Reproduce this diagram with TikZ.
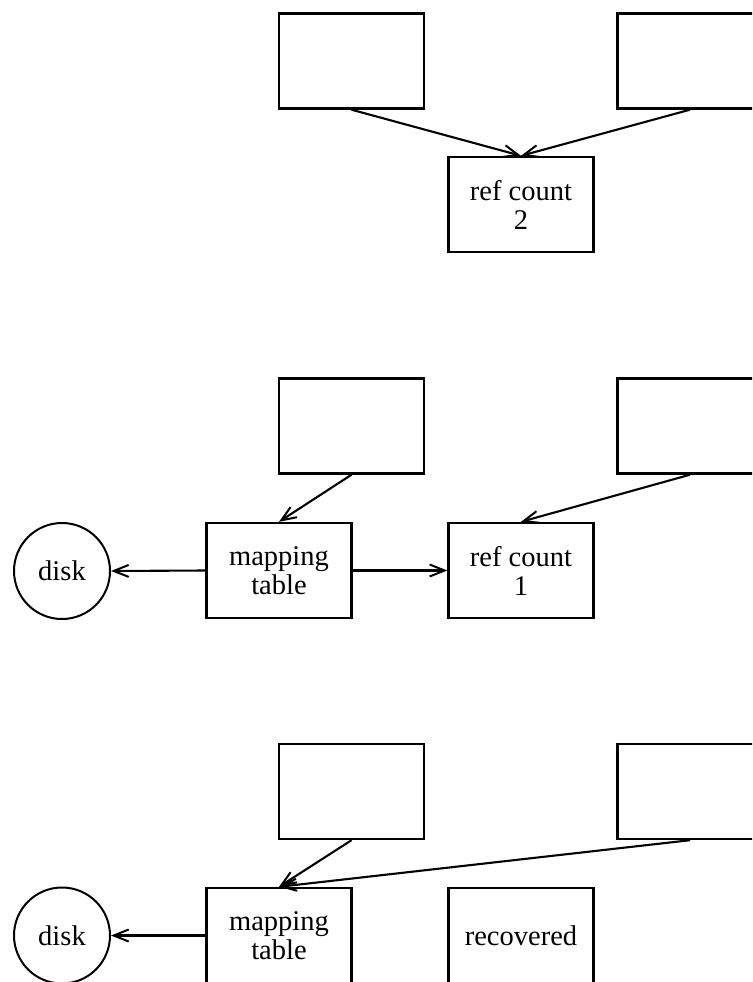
\documentclass[tikz,border=0pt]{standalone}
\usepackage{fontspec}
\setmainfont{Liberation Serif}
\usetikzlibrary{arrows.meta}
\tikzset{
  blk/.style={draw, line width=2.4pt, rectangle, minimum width=145pt, minimum height=95pt, inner sep=0pt, align=center, font=\fontsize{28.5}{29}\selectfont},
  dsk/.style={draw, line width=2pt, circle, minimum size=96pt, inner sep=0pt, font=\fontsize{28.5}{29}\selectfont},
  conn/.style={line width=2.1pt, -{Straight Barb[length=15pt,width=12pt,line width=2pt]}},
}
\begin{document}
\begin{tikzpicture}[x=1pt,y=-1pt]
\useasboundingbox (0,0) rectangle (752,982);
\clip (0,0) rectangle (752,982);
% top
\node[blk] (a) at (351.5,61) {};
\node[blk] (b) at (690,61) {};
\node[blk] (r2) at (521,204.5) {ref count\\2};
\draw[conn] (a.south) -- (r2.north);
\draw[conn] (b.south) -- (r2.north);
% middle
\node[blk] (c) at (351.5,426) {};
\node[blk] (d) at (690,426) {};
\node[blk] (m1) at (279,570.5) {mapping\\table};
\node[blk] (r1) at (521,570.5) {ref count\\1};
\node[dsk] (k1) at (62,571) {disk};
\draw[conn] (c.south) -- (m1.north);
\draw[conn] (d.south) -- (r1.north);
\draw[conn] (m1.west) -- (k1.east);
\draw[conn] (m1.east) -- (r1.west);
% bottom
\node[blk] (e) at (351.5,791.5) {};
\node[blk] (f) at (690,791.5) {};
\node[blk] (m2) at (279,935.5) {mapping\\table};
\node[blk] (rc) at (521,935.5) {recovered};
\node[dsk] (k2) at (62,935.5) {disk};
\draw[conn] (e.south) -- (m2.north);
\draw[conn] (f.south) -- (m2.north);
\draw[conn] (m2.west) -- (k2.east);
\end{tikzpicture}
\end{document}
